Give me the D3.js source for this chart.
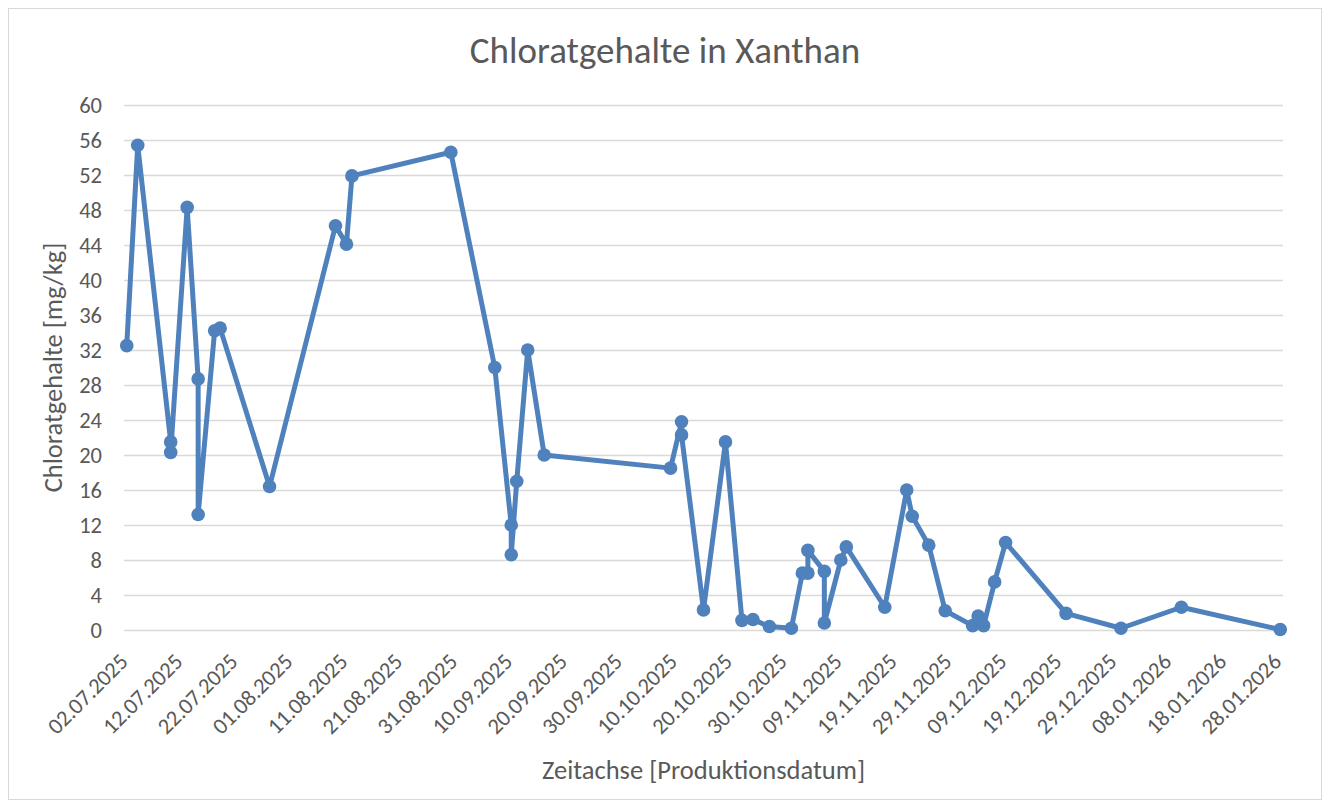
<!DOCTYPE html>
<html>
<head>
<meta charset="utf-8">
<script src="https://cdn.jsdelivr.net/npm/d3@7"></script>
<style>
  html, body { margin: 0; padding: 0; background: #ffffff; }
  svg { display: block; }
  text { font-family: Carlito, Calibri, Lato, "Open Sans", sans-serif; fill: #595959; }
</style>
</head>
<body>
<svg id="chart" width="1330" height="809"></svg>
<script>
// ---- data ----
const dates = ["2025-07-02","2025-07-04","2025-07-10","2025-07-10","2025-07-13","2025-07-15","2025-07-15","2025-07-18","2025-07-19","2025-07-28",
  "2025-08-09","2025-08-11","2025-08-12","2025-08-30","2025-09-07","2025-09-10","2025-09-10","2025-09-11","2025-09-13","2025-09-16",
  "2025-10-09","2025-10-11","2025-10-11","2025-10-15","2025-10-19","2025-10-22","2025-10-24","2025-10-27","2025-10-31","2025-11-02",
  "2025-11-03","2025-11-03","2025-11-06","2025-11-06","2025-11-09","2025-11-10","2025-11-17","2025-11-21","2025-11-22","2025-11-25",
  "2025-11-28","2025-12-03","2025-12-04","2025-12-05","2025-12-07","2025-12-09","2025-12-20","2025-12-30","2026-01-10","2026-01-28"];
const values = [32.5, 55.4, 21.5, 20.3, 48.3, 28.7, 13.2, 34.2, 34.5, 16.4,
  46.2, 44.1, 51.9, 54.6, 30.0, 12.0, 8.6, 17.0, 32.0, 20.0,
  18.5, 23.8, 22.3, 2.3, 21.5, 1.1, 1.2, 0.4, 0.2, 6.5,
  6.5, 9.1, 6.7, 0.8, 8.0, 9.5, 2.6, 16.0, 13.0, 9.7,
  2.2, 0.5, 1.6, 0.5, 5.5, 10.0, 1.9, 0.2, 2.6, 0.05];
const xTickLabels = ["02.07.2025","12.07.2025","22.07.2025","01.08.2025","11.08.2025","21.08.2025","31.08.2025","10.09.2025",
  "20.09.2025","30.09.2025","10.10.2025","20.10.2025","30.10.2025","09.11.2025","19.11.2025","29.11.2025","09.12.2025",
  "19.12.2025","29.12.2025","08.01.2026","18.01.2026","28.01.2026"];
const yTicks = [0,4,8,12,16,20,24,28,32,36,40,44,48,52,56,60];
const chartTitle = "Chloratgehalte in Xanthan";
const xTitle = "Zeitachse [Produktionsdatum]";
const yTitle = "Chloratgehalte [mg/kg]";

// ---- setup ----
const parseISO = d3.utcParse("%Y-%m-%d");
const parseDE = d3.utcParse("%d.%m.%Y");
const data = dates.map((d, i) => ({ date: parseISO(d), value: values[i] }));
const tickDates = xTickLabels.map(parseDE);
const fmt = d3.utcFormat("%d.%m.%Y");

const svg = d3.select("#chart");
const pLeft = 124, pRight = 1283, pTop = 105, pBottom = 630;
const halfDay = 12 * 3600 * 1000;
const x = d3.scaleUtc()
  .domain([new Date(tickDates[0].getTime() - halfDay), new Date(tickDates[tickDates.length - 1].getTime() + halfDay)])
  .range([pLeft, pRight]);
const y = d3.scaleLinear().domain([0, 60]).range([pBottom, pTop]);

// chart border
svg.append("rect").attr("x", 8.5).attr("y", 8.5).attr("width", 1313).attr("height", 791)
  .attr("fill", "#fff").attr("stroke", "#d9d9d9").attr("stroke-width", 1);

// gridlines + y labels
const yAxis = d3.axisLeft(y).tickValues(yTicks).tickSize(-(pRight - pLeft)).tickPadding(22).tickFormat(d3.format("d"));
const gy = svg.append("g").attr("transform", `translate(${pLeft},0)`).call(yAxis);
gy.select(".domain").remove();
gy.selectAll(".tick line").attr("stroke", "#d9d9d9").attr("stroke-width", 1.3);
gy.selectAll(".tick text").attr("font-size", 22.5).attr("fill", "#595959")
  .style("font-family", "Carlito, Calibri, Lato, sans-serif");

// x axis labels
const xAxis = d3.axisBottom(x).tickValues(tickDates).tickSize(0).tickFormat(fmt);
const gx = svg.append("g").attr("transform", `translate(0,${pBottom})`).call(xAxis);
gx.select(".domain").remove();
gx.selectAll(".tick text")
  .attr("font-size", 22.5).attr("fill", "#595959")
  .style("font-family", "Carlito, Calibri, Lato, sans-serif")
  .attr("text-anchor", "end")
  .attr("dy", null).attr("y", 0)
  .attr("transform", "translate(2,33) rotate(-45)");

// line
const line = d3.line().x(d => x(d.date)).y(d => y(d.value));
svg.append("path").datum(data).attr("d", line)
  .attr("fill", "none").attr("stroke", "#4f81bd").attr("stroke-width", 5)
  .attr("stroke-linejoin", "round").attr("stroke-linecap", "round");

svg.append("g").selectAll("circle").data(data).join("circle")
  .attr("cx", d => x(d.date)).attr("cy", d => y(d.value)).attr("r", 6.8)
  .attr("fill", "#4f81bd");

// titles
svg.append("text").attr("x", 665).attr("y", 63).attr("text-anchor", "middle")
  .attr("font-size", 37).text(chartTitle);
svg.append("text").attr("x", (pLeft + pRight) / 2).attr("y", 779).attr("text-anchor", "middle")
  .attr("font-size", 26.5).text(xTitle);
svg.append("text").attr("transform", `translate(62,${(pTop + pBottom) / 2}) rotate(-90)`)
  .attr("text-anchor", "middle").attr("font-size", 26.5).text(yTitle);
</script>
</body>
</html>
